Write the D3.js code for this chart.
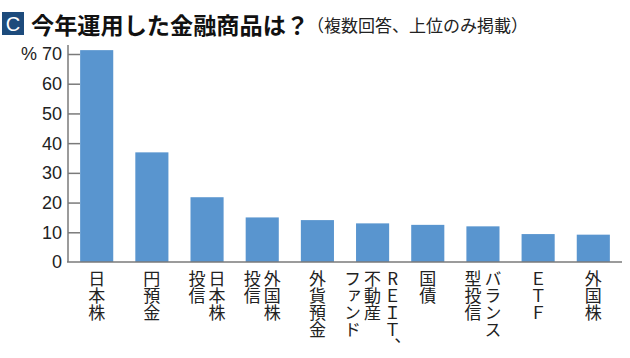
<!DOCTYPE html>
<html><head><meta charset="utf-8">
<script src="https://cdn.jsdelivr.net/npm/d3@7"></script>
<style>
html,body{margin:0;padding:0;background:#fff;}
svg{display:block;}
.vt{writing-mode:vertical-rl;text-orientation:upright;}
</style>
</head><body>
<svg id="c" width="630" height="358"></svg>
<script>
// label columns: each category's columns listed right-to-left as read
const categories = ["日本株","円預金","日本株投信","外国株投信","外貨預金","REIT、不動産ファンド","国債","バランス型投信","ETF","外国株"];
const labelColumns = [["日本株"],["円預金"],["日本株","投信"],["外国株","投信"],["外貨預金"],["RＥＩＴ、","不動産","ファンド"],["国債"],["バランス","型投信"],["ＥＴＦ"],["外国株"]];
const values = [71.3, 36.9, 21.8, 15.0, 14.1, 13.0, 12.5, 12.0, 9.4, 9.2];
const yTicks = [0,10,20,30,40,50,60,70];
const title = "今年運用した金融商品は？";
const subtitle = "（複数回答、上位のみ掲載）";

const svg = d3.select("#c");
const x = d3.scaleBand().domain(categories).range([68, 622]).paddingInner(0.4).paddingOuter(0.22);
const y = d3.scaleLinear().domain([0, 70]).range([262, 54]);

// title
svg.append("rect").attr("x",2).attr("y",12).attr("width",22).attr("height",23).attr("fill","#1d4b7c");
svg.append("text").attr("x",13).attr("y",31).attr("text-anchor","middle").attr("fill","#fff")
  .attr("font-family","Liberation Sans, Arial, sans-serif").attr("font-size",20).text("C");
svg.append("text").attr("x",31).attr("y",34).attr("font-family","Noto Sans CJK JP").attr("font-weight","bold")
  .attr("font-size",23).attr("fill","#111").attr("textLength",278).attr("lengthAdjust","spacingAndGlyphs").text(title);
svg.append("text").attr("x",307).attr("y",32).attr("font-family","Noto Sans CJK JP")
  .attr("font-size",17).attr("fill","#222").attr("textLength",221).attr("lengthAdjust","spacingAndGlyphs").text(subtitle);

// bars
svg.selectAll("rect.bar").data(values).join("rect").attr("class","bar")
  .attr("x",(d,i)=>x(categories[i])).attr("width",x.bandwidth())
  .attr("y",d=>y(d)).attr("height",d=>y(0)-y(d)).attr("fill","#5995cf");

// y axis
const axColor = "#7a7a7a";
svg.append("line").attr("x1",68).attr("x2",68).attr("y1",45).attr("y2",y(0)).attr("stroke",axColor).attr("stroke-width",1.5);
svg.append("line").attr("x1",67).attr("x2",622).attr("y1",y(0)).attr("y2",y(0)).attr("stroke",axColor).attr("stroke-width",1.5);
const ya = d3.axisRight(y).tickValues(yTicks.filter(t=>t>0)).tickSize(12).tickFormat("");
const g = svg.append("g").attr("transform","translate(68,0)").call(ya);
g.select(".domain").remove();
g.selectAll(".tick line").attr("stroke",axColor).attr("stroke-width",1.5);
svg.selectAll("text.yt").data(yTicks).join("text").attr("class","yt")
  .attr("x",62).attr("y",d=>y(d)).attr("dy","0.36em").attr("text-anchor","end")
  .attr("font-family","Liberation Sans, Arial, sans-serif").attr("font-size",18).attr("fill","#222").text(d=>d);
svg.append("text").attr("x",21).attr("y",y(70)).attr("dy","0.36em")
  .attr("font-family","Liberation Sans, Arial, sans-serif").attr("font-size",18).attr("fill","#222").text("%");

// x labels (vertical, columns right to left)
const colGap = 20;
labelColumns.forEach((cols, i) => {
  const cx = x(categories[i]) + x.bandwidth()/2;
  const n = cols.length;
  cols.forEach((c, j) => {
    const off = ((n-1)/2 - j) * colGap;
    svg.append("text").attr("class","vt").attr("x", cx + off).attr("y", 270)
      .attr("font-family","Noto Sans CJK JP").attr("font-size",17).attr("fill","#222").text(c);
  });
});
</script>
</body></html>
